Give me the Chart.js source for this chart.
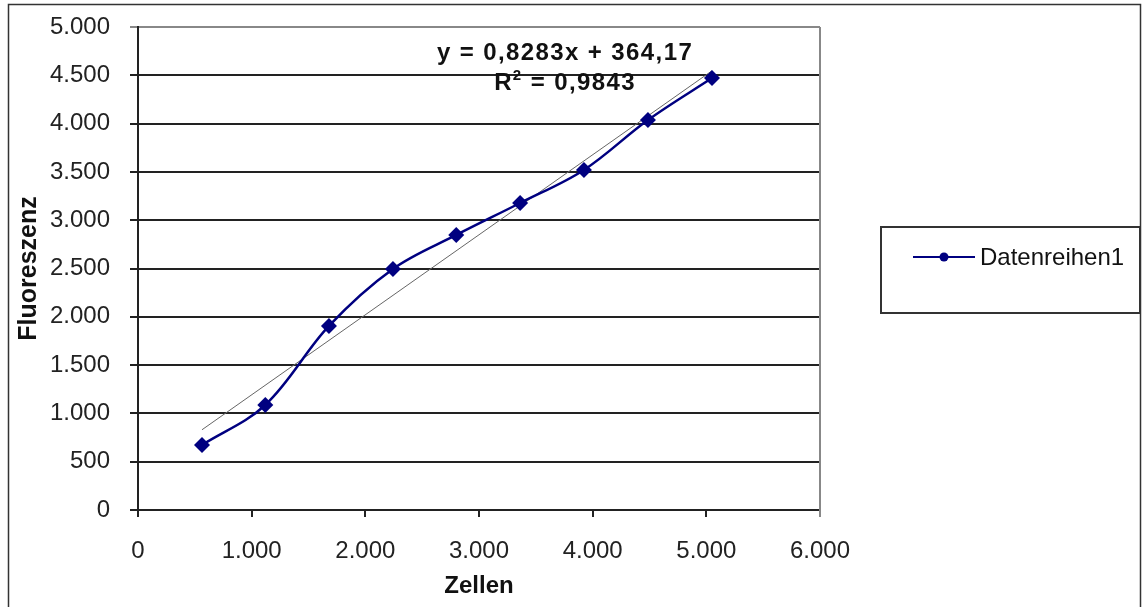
<!DOCTYPE html>
<html>
<head>
<meta charset="utf-8">
<script src="https://cdn.jsdelivr.net/npm/chart.js@4.4.1/dist/chart.umd.min.js"></script>
<style>
  html, body { margin: 0; padding: 0; background: #fff; }
  #wrap { width: 1143px; height: 607px; }
</style>
</head>
<body>
<div id="wrap"><canvas id="myChart" width="1143" height="607"></canvas></div>
<script>
// Messreihe: Zellzahl gegen Fluoreszenz
const zellen = [563, 1120, 1680, 2243, 2800, 3362, 3923, 4486, 5050];
const fluoreszenz = [673, 1087, 1905, 2495, 2847, 3178, 3520, 4037, 4472];
const seriesName = 'Datenreihen1';

// lineare Trendlinie (aus Excel)
const slope = 0.8283;
const intercept = 364.17;
const rSquared = 0.9843;
const trendLabel = ['y = 0,8283x + 364,17', 'R', '2', ' = 0,9843'];

const xTicks = [0, 1000, 2000, 3000, 4000, 5000, 6000];
const yTicks = [0, 500, 1000, 1500, 2000, 2500, 3000, 3500, 4000, 4500, 5000];

const FONT = "'Liberation Sans', Arial, sans-serif";
const NAVY = '#000080';

const fmt = v => String(v).replace(/\B(?=(\d{3})+(?!\d))/g, '.');

const points = zellen.map((x, i) => ({ x: x, y: fluoreszenz[i] }));
const xMin = Math.min(...zellen), xMax = Math.max(...zellen);
const trend = [
  { x: xMin, y: slope * xMin + intercept },
  { x: xMax, y: slope * xMax + intercept }
];

// Rahmen, Legende und Gleichung der Trendlinie
const excelDecor = {
  id: 'excelDecor',
  beforeDraw(chart) {
    const ctx = chart.ctx;
    ctx.save();
    ctx.fillStyle = '#fff';
    ctx.fillRect(0, 0, chart.width, chart.height);
    ctx.strokeStyle = '#333';
    ctx.lineWidth = 1.5;
    ctx.strokeRect(8.5, 4.5, 1132, 610);
    ctx.restore();
  },
  afterDraw(chart) {
    const ctx = chart.ctx;
    const a = chart.chartArea;
    ctx.save();
    // rechter Rand der Zeichenfläche
    ctx.strokeStyle = '#888';
    ctx.lineWidth = 2;
    ctx.beginPath();
    ctx.moveTo(a.right, a.top);
    ctx.lineTo(a.right, a.bottom + 7);
    ctx.stroke();

    // Gleichung
    const cx = chart.scales.x.getPixelForValue(3757);
    ctx.fillStyle = '#111';
    ctx.font = 'bold 24px ' + FONT;
    ctx.letterSpacing = '1.4px';
    ctx.textBaseline = 'middle';
    ctx.textAlign = 'center';
    ctx.fillText(trendLabel[0], cx, 53);
    // zweite Zeile mit hochgestellter 2
    const wR = ctx.measureText(trendLabel[1]).width;
    const wRest = ctx.measureText(trendLabel[3]).width;
    ctx.font = 'bold 15px ' + FONT;
    const w2 = ctx.measureText(trendLabel[2]).width;
    let x0 = cx - (wR + w2 + wRest) / 2;
    ctx.textAlign = 'left';
    ctx.font = 'bold 24px ' + FONT;
    ctx.fillText(trendLabel[1], x0, 83);
    ctx.font = 'bold 15px ' + FONT;
    ctx.fillText(trendLabel[2], x0 + wR, 76);
    ctx.font = 'bold 24px ' + FONT;
    ctx.fillText(trendLabel[3], x0 + wR + w2, 83);
    ctx.letterSpacing = '0px';

    // Legende
    ctx.fillStyle = '#fff';
    ctx.fillRect(881, 227, 259, 86);
    ctx.strokeStyle = '#333';
    ctx.lineWidth = 2;
    ctx.strokeRect(881, 227, 259, 86);
    ctx.strokeStyle = NAVY;
    ctx.lineWidth = 2;
    ctx.beginPath();
    ctx.moveTo(913, 257);
    ctx.lineTo(975, 257);
    ctx.stroke();
    ctx.fillStyle = NAVY;
    ctx.beginPath();
    ctx.arc(944, 257, 4.5, 0, Math.PI * 2);
    ctx.fill();
    ctx.fillStyle = '#111';
    ctx.font = '24px ' + FONT;
    ctx.textAlign = 'left';
    ctx.fillText(seriesName, 980, 258);
    ctx.restore();
  }
};

const chart = new Chart(
  document.getElementById('myChart'),
  {
    type: 'scatter',
    data: {
      datasets: [
        {
          label: seriesName,
          data: points,
          showLine: true,
          tension: 0.35,
          borderColor: NAVY,
          borderWidth: 2.5,
          backgroundColor: NAVY,
          pointStyle: 'rectRot',
          pointRadius: 8,
          pointBorderWidth: 0,
          order: 1
        },
        {
          label: 'Linear',
          data: trend,
          showLine: true,
          borderColor: '#666',
          borderWidth: 1,
          pointRadius: 0,
          order: 2
        }
      ]
    },
    options: {
      responsive: false,
      animation: false,
      layout: { padding: { left: 8, top: 27, right: 323, bottom: 0 } },
      plugins: {
        legend: { display: false },
        tooltip: { enabled: false }
      },
      scales: {
        x: {
          type: 'linear',
          min: 0,
          max: 6000,
          afterBuildTicks: s => { s.ticks = xTicks.map(v => ({ value: v })); },
          afterFit: s => { s.height = 97; s.paddingLeft = 0; s.paddingRight = 0; },
          grid: { drawOnChartArea: false, drawTicks: true, tickLength: 7, color: '#222', lineWidth: 2 },
          border: { color: '#222', width: 2 },
          ticks: {
            padding: 20,
            color: '#222',
            font: { family: FONT, size: 24 },
            maxRotation: 0,
            callback: v => fmt(v)
          },
          title: {
            display: true,
            text: 'Zellen',
            color: '#111',
            font: { family: FONT, size: 24, weight: 'bold' },
            padding: { top: 0, bottom: 6 }
          }
        },
        y: {
          type: 'linear',
          min: 0,
          max: 5000,
          afterBuildTicks: s => { s.ticks = yTicks.map(v => ({ value: v })); },
          afterFit: s => { s.width = 130; s.paddingTop = 0; s.paddingBottom = 0; },
          grid: {
            drawTicks: true,
            tickLength: 8,
            color: c => (c.tick && c.tick.value === 5000) ? '#888' : '#222',
            lineWidth: 2
          },
          border: { color: '#222', width: 2 },
          ticks: {
            padding: 20,
            color: '#222',
            font: { family: FONT, size: 24 },
            callback: v => fmt(v)
          },
          title: {
            display: true,
            text: 'Fluoreszenz',
            color: '#111',
            font: { family: FONT, size: 25, weight: 'bold' },
            padding: { top: 6, bottom: 0 }
          }
        }
      }
    },
    plugins: [excelDecor]
  }
);
</script>
</body>
</html>
